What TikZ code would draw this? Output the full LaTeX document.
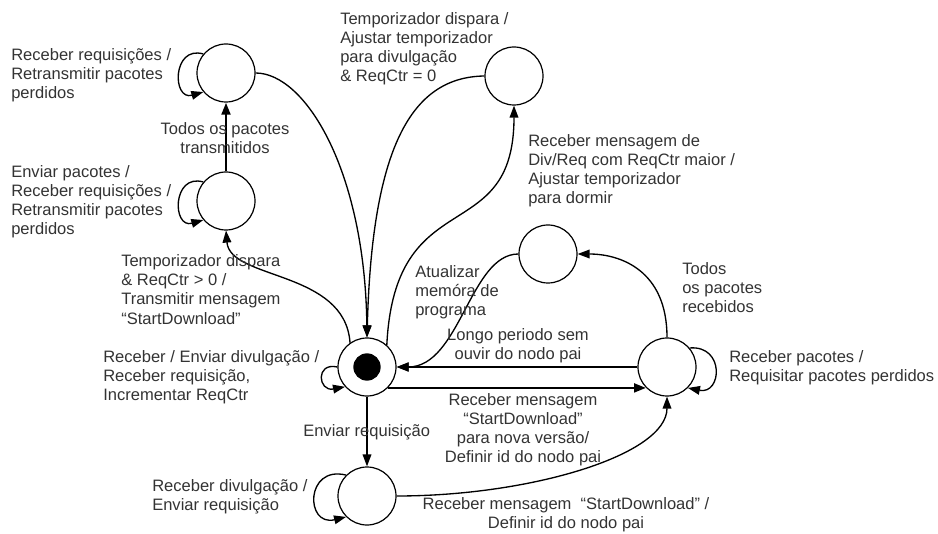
\documentclass[tikz,border=0pt]{standalone}
\usepackage{fontspec}
\setmainfont{Liberation Sans}
\usetikzlibrary{arrows.meta}
\definecolor{txt}{RGB}{51,51,51}
\begin{document}
\begin{tikzpicture}[x=0.75pt,y=-0.75pt,
  state/.style={circle,draw,line width=0.9pt,fill=white,minimum size=43.5pt,inner sep=0pt},
  lbl/.style={text=txt,font=\fontsize{12.4}{14.3}\selectfont,inner sep=0pt},
  lblL/.style={lbl,align=left,anchor=west},
  lblC/.style={lbl,align=center},
  tr/.style={line width=1pt,-{Triangle[length=9pt,width=6.5pt]}},
  thk/.style={line width=2pt,-{Triangle[length=9pt,width=6.5pt]}},
]
\useasboundingbox (0,0) rectangle (938,534);
% states
\node[state] (A) at (226,73) {};
\node[state] (B) at (226,201) {};
\node[state] (C) at (514,76) {};
\node[state] (M) at (367,367) {};
\node[circle,fill=black,minimum size=20.5pt,inner sep=0pt] (Mdot) at (M.center) {};
\node[state] (D) at (548,254) {};
\node[state] (E) at (667,367) {};
\node[state] (F) at (367,496) {};
% edges
\draw[thk] (B.north) -- (A.south);
\draw[tr] (A.east) .. controls (305,73) and (365,170) .. (M.north);
\draw[tr] (C.west) .. controls (410,77) and (372,150) .. (M.north);
\draw[tr] (M.48) .. controls (395,180) and (514,250) .. (C.south);
\draw[tr] (M.125) .. controls (345,270) and (230,280) .. (B.south);
\draw[tr] (D.west) .. controls (470,254) and (460,367) .. (M.east);
\draw[thk] (E.west) -- (M.east);
\draw[thk] (M.-45) -- (E.225);
\draw[tr] (E.north) .. controls (667,270) and (620,254) .. (D.east);
\draw[tr] (M.south) -- (F.north);
\draw[tr] (F.east) .. controls (530,496) and (667,455) .. (E.south);
% self loops
\draw[tr] (A.140) .. controls (172,45) and (172,101) .. (A.220);
\draw[tr] (B.140) .. controls (172,173) and (172,229) .. (B.220);
\draw[tr] (M.180) .. controls (315,362) and (318,392) .. (M.222);
\draw[tr] (E.40) .. controls (725,345) and (722,395) .. (E.-45);
\draw[tr] (F.135) .. controls (305,465) and (305,527) .. (F.225);
% labels
\node[lblL] (l1) at (11,75) {Receber requisições /\\Retransmitir pacotes\\perdidos};
\node[lblC] (l2) at (225,138) {Todos os pacotes\\transmitidos};
\node[lblL] (l3) at (11,202) {Enviar pacotes /\\Receber requisições /\\Retransmitir pacotes\\perdidos};
\node[lblL] (l4) at (340,48.5) {Temporizador dispara /\\Ajustar temporizador\\para divulgação\\\& ReqCtr = 0};
\node[lblL] (l5) at (528,171) {Receber mensagem de\\Div/Req com ReqCtr maior /\\Ajustar temporizador\\para dormir};
\node[lblL] (l6) at (121,289.5) {Temporizador dispara\\\& ReqCtr > 0 /\\Transmitir mensagem\\“StartDownload”};
\node[lblL] (l7) at (415,292) {Atualizar\\memóra de\\programa};
\node[lblC] (l8) at (518,346) {Longo periodo sem\\ouvir do nodo pai};
\node[lblL] (l9) at (103,377) {Receber / Enviar divulgação /\\Receber requisição,\\Incrementar ReqCtr};
\node[lblL] (l10) at (682,288) {Todos\\os pacotes\\recebidos};
\node[lblL] (l11) at (729,367.5) {Receber pacotes /\\Requisitar pacotes perdidos};
\node[lblC] (l12) at (523,430) {Receber mensagem\\“StartDownload”\\para nova versão/\\Definir id do nodo pai};
\node[lblL] (l13) at (303,432) {Enviar requisição};
\node[lblL] (l14) at (152,496.5) {Receber divulgação /\\Enviar requisição};
\node[lblC] (l15) at (566,515) {Receber mensagem \ “StartDownload” /\\Definir id do nodo pai};
\end{tikzpicture}
\end{document}
